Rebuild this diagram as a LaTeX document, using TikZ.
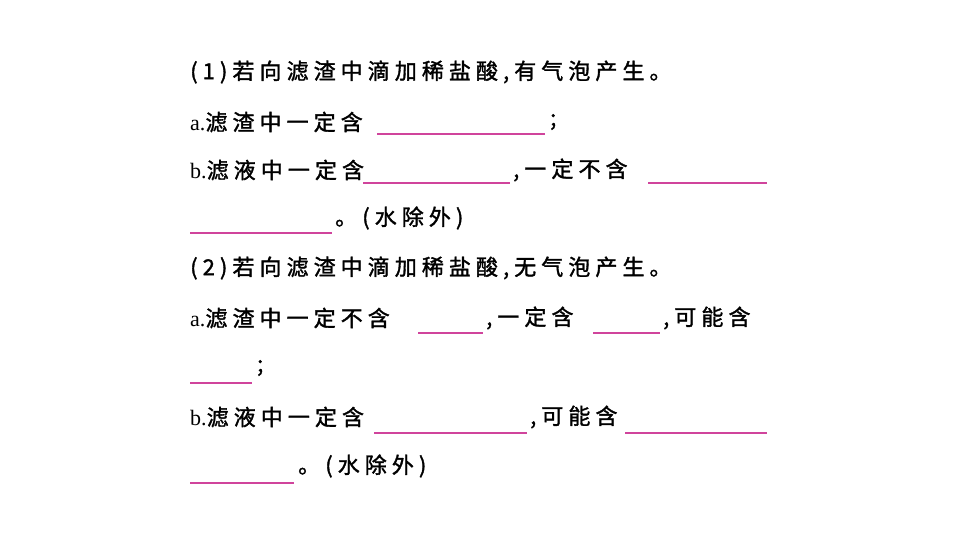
\documentclass[tikz,border=0pt]{standalone}
\usepackage{fontspec}
\setmainfont{Liberation Serif}
\newfontfamily\cjk[LetterSpace=23,FakeBold=1.5]{Noto Sans CJK SC}
\begin{document}
\begin{tikzpicture}[x=1pt,y=-1pt,
  t/.style={anchor=west,inner sep=0pt,font=\fontsize{22}{22}\selectfont\cjk},
  ul/.style={draw=blankpink,line width=1.3pt}]
\definecolor{blankpink}{HTML}{D0449C}
\useasboundingbox (0,0) rectangle (960,540);
\node[t] (l1) at (190,72) {(1)若向滤渣中滴加稀盐酸,有气泡产生。};
\node[t] (l2) at (190,122) {{\rmfamily a.}滤渣中一定含};
\draw[ul] (377,134) -- (545,134);
\node[t] (l2b) at (550,122) {;};
\node[t] (l3) at (190,170) {{\rmfamily b.}滤液中一定含};
\draw[ul] (363,183) -- (510,183);
\node[t] (l3b) at (513,170) {,一定不含};
\draw[ul] (648,183) -- (767,183);
\draw[ul] (190,233) -- (332,233);
\node[t] (l4) at (335,218) {。(水除外)};
\node[t] (l5) at (190,268) {(2)若向滤渣中滴加稀盐酸,无气泡产生。};
\node[t] (l6) at (190,318) {{\rmfamily a.}滤渣中一定不含};
\draw[ul] (418,333) -- (483,333);
\node[t] (l6b) at (486,318) {,一定含};
\draw[ul] (593,333) -- (660,333);
\node[t] (l6c) at (663,318) {,可能含};
\draw[ul] (190,383) -- (252,383);
\node[t] (l7) at (257,368) {;};
\node[t] (l8) at (190,417) {{\rmfamily b.}滤液中一定含};
\draw[ul] (374,433) -- (527,433);
\node[t] (l8b) at (530,417) {,可能含};
\draw[ul] (625,433) -- (767,433);
\draw[ul] (190,483) -- (294,483);
\node[t] (l9) at (298,466) {。(水除外)};
\end{tikzpicture}
\end{document}
